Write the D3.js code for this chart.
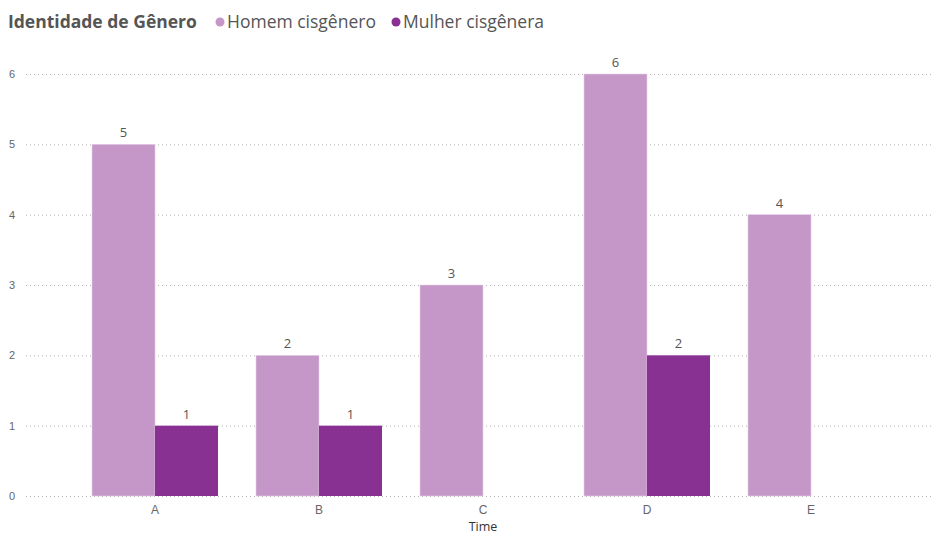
<!DOCTYPE html>
<html>
<head>
<meta charset="utf-8">
<script src="https://cdn.jsdelivr.net/npm/d3@7"></script>
<style>
  body { margin: 0; background: #fff; }
  svg { display: block; font-family: "Open Sans", "Segoe UI", sans-serif; }
</style>
</head>
<body>
<svg id="chart" width="932" height="535"></svg>
<script>
// Team categories and counts per gender identity
const teams = ["A", "B", "C", "D", "E"];
const seriesNames = ["Homem cisgênero", "Mulher cisgênera"];
const homem = [5, 2, 3, 6, 4];
const mulher = [1, 1, null, 2, null];
const yTicks = [0, 1, 2, 3, 4, 5, 6];
const colors = ["#C497C8", "#883193"];

const svg = d3.select("#chart");
const margin = { left: 26, right: 0, top: 74, bottom: 39 };
const W = 932, H = 535;

const y = d3.scaleLinear().domain([0, 6]).range([H - margin.bottom, margin.top]);
const x = d3.scaleBand().domain(teams).range([73, 893])
  .paddingInner(0.2317).paddingOuter(0.1159);
const xs = d3.scaleBand().domain(seriesNames).range([0, x.bandwidth()]);

// Dotted gridlines
const yAxis = d3.axisLeft(y).tickValues(yTicks).tickFormat(d3.format("d"))
  .tickSize(-(W - margin.left)).tickPadding(12);
const gy = svg.append("g").attr("transform", `translate(${margin.left},0)`).call(yAxis);
gy.select(".domain").remove();
gy.selectAll(".tick line").attr("stroke", "#b3b3b3").attr("stroke-dasharray", "1,3").attr("stroke-width", 1);
gy.selectAll(".tick text").attr("fill", "#666").attr("font-size", 11).attr("x", -11)
  .attr("text-anchor", "end");

// Bars
const rows = teams.map((t, i) => ({ team: t, vals: [homem[i], mulher[i]] }));
const groups = svg.append("g").selectAll("g").data(rows).join("g")
  .attr("transform", d => `translate(${x(d.team)},0)`);

groups.selectAll("rect")
  .data(d => d.vals.map((v, k) => ({ v, k })).filter(e => e.v != null))
  .join("rect")
  .attr("x", e => xs(seriesNames[e.k]))
  .attr("width", xs.bandwidth())
  .attr("y", e => y(e.v))
  .attr("height", e => y(0) - y(e.v))
  .attr("fill", e => colors[e.k])
  .attr("stroke", e => e.k === 0 ? "#e6cfe8" : "none")
  .attr("stroke-width", 0.6);

groups.selectAll("text.lbl")
  .data(d => d.vals.map((v, k) => ({ v, k })).filter(e => e.v != null))
  .join("text").attr("class", "lbl")
  .attr("x", e => xs(seriesNames[e.k]) + xs.bandwidth() / 2)
  .attr("y", e => y(e.v) - 7)
  .attr("text-anchor", "middle")
  .attr("fill", "#555")
  .attr("font-size", 13)
  .text(e => e.v);

// X axis labels
const xAxis = d3.axisBottom(x).tickSize(0).tickPadding(9);
const gx = svg.append("g").attr("transform", `translate(0,${y(0)})`).call(xAxis);
gx.select(".domain").remove();
gx.selectAll(".tick text").attr("fill", "#666").attr("font-size", 12);

svg.append("text").attr("x", 483).attr("y", 531).attr("text-anchor", "middle")
  .attr("fill", "#333").attr("font-size", 12.5).text("Time");

// Legend
const legend = svg.append("g");
legend.append("text").attr("x", 8).attr("y", 28).attr("fill", "#555")
  .attr("font-size", 17.5).attr("font-weight", "bold").text("Identidade de Gênero");
const legendX = [220, 396];
seriesNames.forEach((s, k) => {
  legend.append("circle").attr("cx", legendX[k]).attr("cy", 22).attr("r", 4.5).attr("fill", colors[k]);
  legend.append("text").attr("x", legendX[k] + 7).attr("y", 28).attr("fill", "#555")
    .attr("font-size", 17.5).text(s);
});
</script>
</body>
</html>
